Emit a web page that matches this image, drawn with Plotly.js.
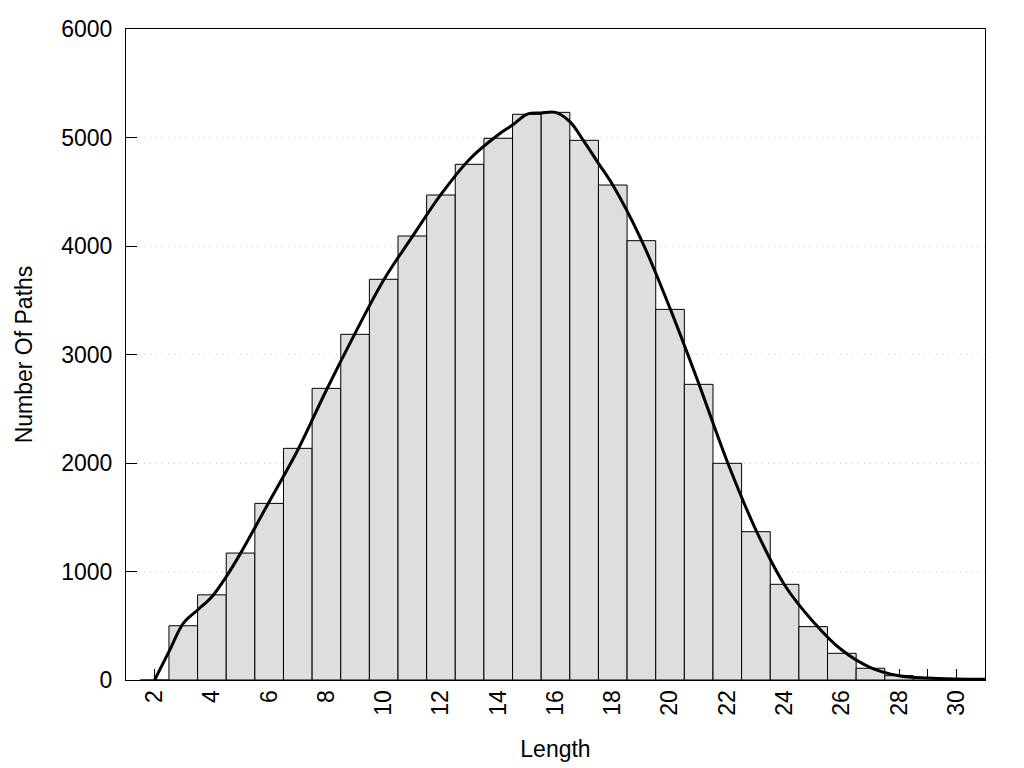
<!DOCTYPE html>
<html>
<head>
<meta charset="utf-8">
<script src="https://cdn.plot.ly/plotly-3.0.1.min.js"></script>
<style>html,body{margin:0;padding:0;background:#fff;}#chart{width:1024px;height:768px;}</style>
</head>
<body>
<div id="chart"></div>
<script>
// Path lengths (histogram bins, centered on integers)
const lengths = [2,3,4,5,6,7,8,9,10,11,12,13,14,15,16,17,18,19,20,21,22,23,24,25,26,27,28,29,30,31];
const pathCounts = [0,500,785,1170,1628,2135,2688,3186,3693,4092,4470,4753,4993,5214,5232,4974,4562,4049,3416,2725,1997,1367,882,492,246,108,40,15,5,2];
// Smoothed curve
const curveX = [2,2.5,3,3.5,4,4.5,5,6,7,8,9,10,11,12,13,14,14.5,15,15.5,16,16.5,17,17.5,18,19,20,21,22,23,24,25,26,27,28,29,30,31];
const curveY = [0,261,522,645,768,952,1167,1643,2120,2673,3195,3687,4086,4475,4800,5025,5115,5214,5226,5232,5146,4962,4762,4562,4055,3425,2734,2012,1382,876,538,276,115,40,18,9,6];
const xTickVals = [2,4,6,8,10,12,14,16,18,20,22,24,26,28,30];
const yTickVals = [0,1000,2000,3000,4000,5000,6000];

const font = {family: 'Liberation Sans, Arial, sans-serif', size: 23, color: '#000'};

const traces = [
  {
    type: 'bar', x: lengths, y: pathCounts, width: 1,
    marker: {color: '#dedede', line: {color: '#000', width: 1}},
    hoverinfo: 'x+y'
  },
  {
    type: 'scatter', mode: 'lines', x: curveX, y: curveY,
    line: {color: '#000', width: 3, shape: 'spline', smoothing: 1},
    hoverinfo: 'skip'
  }
];

const layout = {
  width: 1024, height: 768,
  margin: {l: 126, r: 39, t: 29, b: 88},
  paper_bgcolor: '#fff', plot_bgcolor: '#fff',
  showlegend: false,
  font: font,
  bargap: 0,
  xaxis: {
    range: [1, 31],
    layer: 'below traces',
    tickmode: 'array', tickvals: xTickVals, ticktext: xTickVals.map(String),
    tickangle: -90,
    ticks: 'inside', ticklen: 11, tickwidth: 1, tickcolor: '#000',
    minor: {dtick: 1, tick0: 1, ticks: 'inside', ticklen: 11, tickwidth: 1, tickcolor: '#000', showgrid: false},
    showline: true, linecolor: '#000', linewidth: 1, mirror: true,
    showgrid: false, zeroline: false,
    tickfont: font,
    title: {text: 'Length', font: font, standoff: 26}
  },
  yaxis: {
    range: [0, 6000],
    layer: 'below traces',
    tickmode: 'array', tickvals: yTickVals, ticktext: yTickVals.map(String),
    ticks: 'inside', ticklen: 11, tickwidth: 1, tickcolor: '#000',
    ticklabelstandoff: 8,
    showline: true, linecolor: '#000', linewidth: 1, mirror: true,
    showgrid: true, gridcolor: '#c8c8c8', gridwidth: 1, griddash: '1px,5px',
    zeroline: false,
    tickfont: font,
    title: {text: 'Number Of Paths', font: font, standoff: 22}
  }
};

Plotly.newPlot('chart', traces, layout, {displayModeBar: false, staticPlot: true});
</script>
</body>
</html>
